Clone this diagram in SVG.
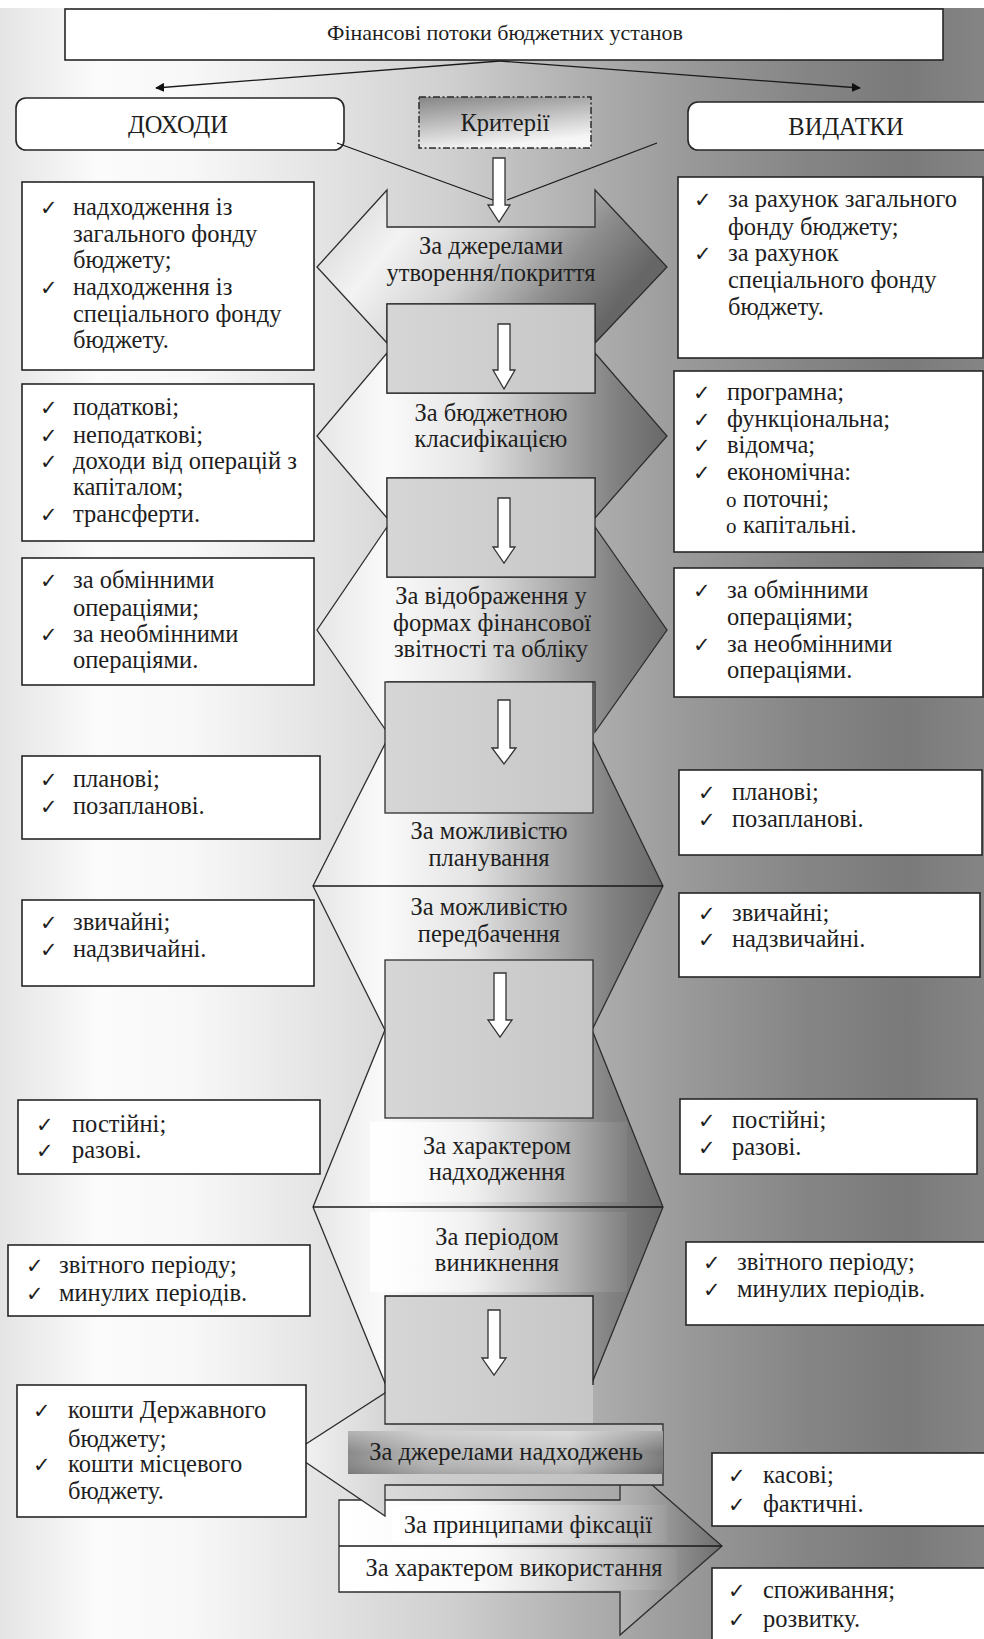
<svg xmlns="http://www.w3.org/2000/svg" width="984" height="1639" viewBox="0 0 984 1639">
<defs>
<style>
.t{font-family:"Liberation Serif","Times New Roman",serif;font-size:24.5px;fill:#1e1e1e}
.c{text-anchor:middle}
.ck{font-family:"DejaVu Sans",sans-serif;font-size:21px;fill:#1e1e1e}
.box{fill:#fff;stroke:#262626;stroke-width:1.6}
.sh{stroke:#2e2e2e;stroke-width:1.3}
.gr{fill:url(#grayR);stroke:#2e2e2e;stroke-width:1.3}
.ln{stroke:#1a1a1a;stroke-width:1.3;fill:none}
.da{fill:#fff;stroke:#333;stroke-width:1.3}
</style>
<linearGradient id="bg" x1="0" y1="0" x2="984" y2="0" gradientUnits="userSpaceOnUse">
<stop offset="0" stop-color="#e4e4e4"/>
<stop offset="0.1" stop-color="#fbfbfb"/>
<stop offset="0.19" stop-color="#f8f8f8"/>
<stop offset="0.33" stop-color="#e3e3e3"/>
<stop offset="0.46" stop-color="#cfcfcf"/>
<stop offset="0.58" stop-color="#b2b2b2"/>
<stop offset="0.7" stop-color="#999"/>
<stop offset="0.82" stop-color="#858585"/>
<stop offset="0.92" stop-color="#7a7a7a"/>
<stop offset="1" stop-color="#858585"/>
</linearGradient>
<linearGradient id="cg" x1="0" y1="0" x2="1" y2="0">
<stop offset="0" stop-color="#e6e6e6"/>
<stop offset="0.2" stop-color="#fafafa"/>
<stop offset="0.45" stop-color="#e4e4e4"/>
<stop offset="0.65" stop-color="#b4b4b4"/>
<stop offset="0.85" stop-color="#828282"/>
<stop offset="1" stop-color="#686868"/>
</linearGradient>
<linearGradient id="cg1" x1="0" y1="0" x2="1" y2="0.35">
<stop offset="0" stop-color="#cfcfcf"/>
<stop offset="0.3" stop-color="#f3f3f3"/>
<stop offset="0.55" stop-color="#d2d2d2"/>
<stop offset="0.8" stop-color="#8e8e8e"/>
<stop offset="1" stop-color="#666"/>
</linearGradient>
<linearGradient id="grayR" x1="0" y1="0" x2="1" y2="0">
<stop offset="0" stop-color="#d6d6d6"/>
<stop offset="1" stop-color="#c6c6c6"/>
</linearGradient>
<linearGradient id="krit" x1="0" y1="0" x2="0.35" y2="1">
<stop offset="0" stop-color="#858585"/>
<stop offset="1" stop-color="#f6f6f6"/>
</linearGradient>
<linearGradient id="tb" x1="0" y1="0" x2="1" y2="0">
<stop offset="0" stop-color="#fff" stop-opacity="0.9"/>
<stop offset="0.5" stop-color="#fff" stop-opacity="0.35"/>
<stop offset="1" stop-color="#fff" stop-opacity="0.05"/>
</linearGradient>
<linearGradient id="rarr" x1="339" y1="0" x2="722" y2="0" gradientUnits="userSpaceOnUse">
<stop offset="0" stop-color="#fff"/>
<stop offset="0.35" stop-color="#f8f8f8"/>
<stop offset="0.6" stop-color="#cfcfcf"/>
<stop offset="0.8" stop-color="#a6a6a6"/>
<stop offset="1" stop-color="#6e6e6e"/>
</linearGradient>
<linearGradient id="larr" x1="292" y1="0" x2="663" y2="0" gradientUnits="userSpaceOnUse">
<stop offset="0" stop-color="#f6f6f6"/>
<stop offset="0.3" stop-color="#cfcfcf"/>
<stop offset="1" stop-color="#bdbdbd"/>
</linearGradient>
<linearGradient id="bar" x1="0" y1="0" x2="1" y2="0">
<stop offset="0" stop-color="#8a8a8a"/>
<stop offset="0.25" stop-color="#b8b8b8"/>
<stop offset="0.7" stop-color="#c8c8c8"/>
<stop offset="1" stop-color="#7a7a7a"/>
</linearGradient>
<linearGradient id="barv" x1="0" y1="0" x2="0" y2="1">
<stop offset="0" stop-color="#fff" stop-opacity="0.35"/>
<stop offset="0.5" stop-color="#fff" stop-opacity="0"/>
<stop offset="1" stop-color="#000" stop-opacity="0.12"/>
</linearGradient>
<marker id="ah" viewBox="0 0 10 10" refX="9" refY="5" markerWidth="7" markerHeight="7" orient="auto">
<path d="M0,0 L10,5 L0,10 z" fill="#111"/>
</marker>
</defs>

<rect x="0" y="0" width="984" height="1639" fill="#fff"/>
<rect x="0" y="8" width="984" height="1631" fill="url(#bg)"/>

<g id="title">
<rect class="box" x="65" y="9" width="878" height="51"/>
<text class="t c" x="505" y="40" style="font-size:22px">Фінансові потоки бюджетних установ</text>
</g>

<g id="dokhody">
<rect class="box" x="16" y="98" width="328" height="52" rx="10"/>
<text class="t c" x="178" y="133">ДОХОДИ</text>
</g>

<g id="kryterii">
<rect x="419" y="97" width="172" height="51" fill="url(#krit)" stroke="#2a2a2a" stroke-width="1.5" stroke-dasharray="7 2.5 2 2.5"/>
<text class="t c" x="505" y="131">Критерії</text>
</g>

<g id="vydatky">
<rect class="box" x="688" y="102" width="320" height="48" rx="10"/>
<text class="t c" x="846" y="135">ВИДАТКИ</text>
</g>

<g id="c1">
<polygon class="sh" fill="url(#cg1)" points="387,190 387,227 595,227 595,190 667,267 595,343 595,304 387,304 387,343 317,267"/>
<text class="t c" x="491" y="254">За джерелами</text>
<text class="t c" x="491" y="281">утворення/покриття</text>
</g>
<g id="c2">
<polygon class="sh" fill="url(#cg)" points="387,353 387,393 595,393 595,353 667,436 595,518 595,478 387,478 387,518 317,436"/>
<text class="t c" x="491" y="421">За бюджетною</text>
<text class="t c" x="491" y="447">класифікацією</text>
</g>
<g id="c3">
<polygon class="sh" fill="url(#cg)" points="387,527 387,577 595,577 595,527 667,630 595,732 595,682 387,682 387,732 317,630"/>
<text class="t c" x="491" y="604">За відображення у</text>
<text class="t c" x="492" y="631">формах фінансової</text>
<text class="t c" x="491" y="657">звітності та обліку</text>
</g>
<g id="c4">
<polygon class="sh" fill="url(#cg)" points="387,740 592,740 663,886 592,1030 385,1030 313,886"/>
<line class="ln" x1="313" y1="886" x2="663" y2="886"/>
<text class="t c" x="489" y="839">За можливістю</text>
<text class="t c" x="489" y="866">планування</text>
<text class="t c" x="489" y="915">За можливістю</text>
<text class="t c" x="489" y="942">передбачення</text>
</g>
<g id="c5">
<polygon class="sh" fill="url(#cg)" points="385,1030 592,1030 663,1207 592,1383 385,1383 313,1207"/>
<rect x="370" y="1122" width="257" height="80" fill="url(#tb)"/>
<rect x="370" y="1212" width="257" height="80" fill="url(#tb)"/>
<line class="ln" x1="313" y1="1207" x2="663" y2="1207"/>
<text class="t c" x="497" y="1154">За характером</text>
<text class="t c" x="497" y="1180">надходження</text>
<text class="t c" x="497" y="1245">За періодом</text>
<text class="t c" x="497" y="1271">виникнення</text>
</g>

<g id="gray-blocks">
<rect class="gr" x="387" y="304" width="208" height="89"/>
<rect class="gr" x="387" y="478" width="208" height="99"/>
<rect class="gr" x="385" y="682" width="208" height="131"/>
<rect class="gr" x="385" y="960" width="208" height="158"/>
<rect x="385" y="1296" width="208" height="128" fill="url(#grayR)"/>
<path class="ln" d="M385,1393 V1296 H593 V1385"/>
</g>

<g id="c7">
<polygon class="sh" fill="url(#rarr)" points="339,1500 620,1500 620,1457 722,1546 620,1635 620,1592 339,1592"/>
<rect x="392" y="1505" width="275" height="38" fill="url(#tb)"/>
<rect x="350" y="1549" width="327" height="41" fill="url(#tb)"/>
<line class="ln" x1="339" y1="1546" x2="722" y2="1546"/>
<text class="t c" x="528" y="1533">За принципами фіксації</text>
<text class="t c" x="514" y="1576">За характером використання</text>
</g>
<g id="c6">
<polygon class="sh" fill="url(#larr)" points="663,1424 385,1424 385,1393 292,1453 385,1516 385,1485 663,1485"/>
<rect x="348" y="1431" width="315" height="43" fill="url(#bar)"/>
<rect x="348" y="1431" width="315" height="43" fill="url(#barv)"/>
<text class="t c" x="506" y="1460">За джерелами надходжень</text>
</g>

<g id="connectors">
<path class="ln" d="M500,61 L156,88" stroke-width="1.6" marker-end="url(#ah)"/>
<path class="ln" d="M500,61 L860,88" stroke-width="1.6" marker-end="url(#ah)"/>
<path class="ln" d="M337,143 L493,200"/>
<path class="ln" d="M657,143 L507,200"/>
<polygon class="da" points="493,158 505,158 505,205 510,205 499,222 488,205 493,205"/>
<polygon class="da" points="498,324 510,324 510,370 515,370 504,389 493,370 498,370"/>
<polygon class="da" points="498,498 510,498 510,547 515,547 504,563 493,547 498,547"/>
<polygon class="da" points="498,700 510,700 510,748 516,748 504,764 492,748 498,748"/>
<polygon class="da" points="494,973 506,973 506,1020 512,1020 500,1037 488,1020 494,1020"/>
<polygon class="da" points="488,1310 500,1310 500,1358 506,1358 494,1375 482,1358 488,1358"/>
</g>

<g id="l1">
<rect class="box" x="22" y="182" width="292" height="188"/>
<text class="ck" x="40" y="215">✓</text><text class="t" x="73" y="215">надходження із</text>
<text class="t" x="73" y="242">загального фонду</text>
<text class="t" x="73" y="268">бюджету;</text>
<text class="ck" x="40" y="295">✓</text><text class="t" x="73" y="295">надходження із</text>
<text class="t" x="73" y="322">спеціального фонду</text>
<text class="t" x="73" y="348">бюджету.</text>
</g>
<g id="l2">
<rect class="box" x="22" y="384" width="292" height="157"/>
<text class="ck" x="40" y="415">✓</text><text class="t" x="73" y="415">податкові;</text>
<text class="ck" x="40" y="443">✓</text><text class="t" x="73" y="443">неподаткові;</text>
<text class="ck" x="40" y="469">✓</text><text class="t" x="73" y="469">доходи від операцій з</text>
<text class="t" x="73" y="495">капіталом;</text>
<text class="ck" x="40" y="522">✓</text><text class="t" x="73" y="522">трансферти.</text>
</g>
<g id="l3">
<rect class="box" x="22" y="558" width="292" height="127"/>
<text class="ck" x="40" y="588">✓</text><text class="t" x="73" y="588">за обмінними</text>
<text class="t" x="73" y="616">операціями;</text>
<text class="ck" x="40" y="642">✓</text><text class="t" x="73" y="642">за необмінними</text>
<text class="t" x="73" y="668">операціями.</text>
</g>
<g id="l4">
<rect class="box" x="22" y="756" width="298" height="83"/>
<text class="ck" x="40" y="787">✓</text><text class="t" x="73" y="787">планові;</text>
<text class="ck" x="40" y="814">✓</text><text class="t" x="73" y="814">позапланові.</text>
</g>
<g id="l5">
<rect class="box" x="22" y="900" width="292" height="86"/>
<text class="ck" x="40" y="930">✓</text><text class="t" x="73" y="930">звичайні;</text>
<text class="ck" x="40" y="957">✓</text><text class="t" x="73" y="957">надзвичайні.</text>
</g>
<g id="l6">
<rect class="box" x="18" y="1100" width="302" height="74"/>
<text class="ck" x="36" y="1132">✓</text><text class="t" x="72" y="1132">постійні;</text>
<text class="ck" x="36" y="1158">✓</text><text class="t" x="72" y="1158">разові.</text>
</g>
<g id="l7">
<rect class="box" x="8" y="1245" width="302" height="71"/>
<text class="ck" x="26" y="1273">✓</text><text class="t" x="59" y="1273">звітного періоду;</text>
<text class="ck" x="26" y="1301">✓</text><text class="t" x="59" y="1301">минулих періодів.</text>
</g>
<g id="l8">
<rect class="box" x="17" y="1385" width="289" height="132"/>
<text class="ck" x="33" y="1418">✓</text><text class="t" x="68" y="1418">кошти Державного</text>
<text class="t" x="68" y="1447">бюджету;</text>
<text class="ck" x="33" y="1472">✓</text><text class="t" x="68" y="1472">кошти місцевого</text>
<text class="t" x="68" y="1499">бюджету.</text>
</g>

<g id="r1">
<rect class="box" x="678" y="177" width="305" height="181"/>
<text class="ck" x="694" y="207">✓</text><text class="t" x="728" y="207">за рахунок загального</text>
<text class="t" x="728" y="235">фонду бюджету;</text>
<text class="ck" x="694" y="261">✓</text><text class="t" x="728" y="261">за рахунок</text>
<text class="t" x="728" y="288">спеціального фонду</text>
<text class="t" x="728" y="315">бюджету.</text>
</g>
<g id="r2">
<rect class="box" x="674" y="371" width="309" height="181"/>
<text class="ck" x="693" y="400">✓</text><text class="t" x="727" y="400">програмна;</text>
<text class="ck" x="693" y="427">✓</text><text class="t" x="727" y="427">функціональна;</text>
<text class="ck" x="693" y="453">✓</text><text class="t" x="727" y="453">відомча;</text>
<text class="ck" x="693" y="480">✓</text><text class="t" x="727" y="480">економічна:</text>
<text class="t" x="726" y="507"><tspan style="font-size:21px">o</tspan><tspan x="743">поточні;</tspan></text>
<text class="t" x="726" y="533"><tspan style="font-size:21px">o</tspan><tspan x="743">капітальні.</tspan></text>
</g>
<g id="r3">
<rect class="box" x="674" y="568" width="309" height="129"/>
<text class="ck" x="693" y="598">✓</text><text class="t" x="727" y="598">за обмінними</text>
<text class="t" x="727" y="625">операціями;</text>
<text class="ck" x="693" y="652">✓</text><text class="t" x="727" y="652">за необмінними</text>
<text class="t" x="727" y="678">операціями.</text>
</g>
<g id="r4">
<rect class="box" x="679" y="770" width="303" height="85"/>
<text class="ck" x="698" y="800">✓</text><text class="t" x="732" y="800">планові;</text>
<text class="ck" x="698" y="827">✓</text><text class="t" x="732" y="827">позапланові.</text>
</g>
<g id="r5">
<rect class="box" x="679" y="893" width="301" height="84"/>
<text class="ck" x="698" y="921">✓</text><text class="t" x="732" y="921">звичайні;</text>
<text class="ck" x="698" y="947">✓</text><text class="t" x="732" y="947">надзвичайні.</text>
</g>
<g id="r6">
<rect class="box" x="680" y="1099" width="297" height="75"/>
<text class="ck" x="698" y="1128">✓</text><text class="t" x="732" y="1128">постійні;</text>
<text class="ck" x="698" y="1155">✓</text><text class="t" x="732" y="1155">разові.</text>
</g>
<g id="r7">
<rect class="box" x="686" y="1242" width="310" height="83"/>
<text class="ck" x="703" y="1270">✓</text><text class="t" x="737" y="1270">звітного періоду;</text>
<text class="ck" x="703" y="1297">✓</text><text class="t" x="737" y="1297">минулих періодів.</text>
</g>
<g id="r8">
<rect class="box" x="712" y="1453" width="290" height="73"/>
<text class="ck" x="728" y="1483">✓</text><text class="t" x="763" y="1483">касові;</text>
<text class="ck" x="728" y="1512">✓</text><text class="t" x="763" y="1512">фактичні.</text>
</g>
<g id="r9">
<rect class="box" x="712" y="1568" width="290" height="90"/>
<text class="ck" x="728" y="1598">✓</text><text class="t" x="763" y="1598">споживання;</text>
<text class="ck" x="728" y="1627">✓</text><text class="t" x="763" y="1627">розвитку.</text>
</g>
</svg>
